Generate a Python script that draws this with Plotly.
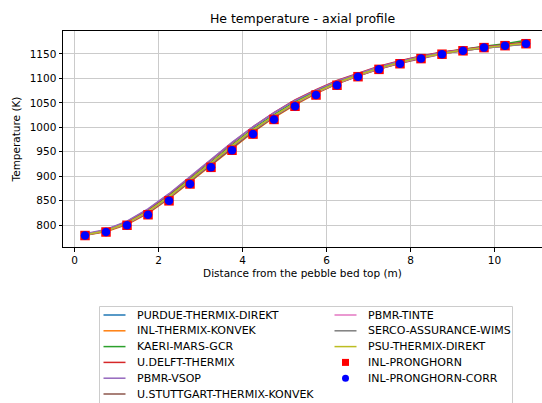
import plotly.graph_objects as go

# Axial positions (m from the top of the pebble bed)
z = [0.25, 0.75, 1.25, 1.75, 2.25, 2.75, 3.25, 3.75, 4.25, 4.75, 5.25,
     5.75, 6.25, 6.75, 7.25, 7.75, 8.25, 8.75, 9.25, 9.75, 10.25, 10.75]

# Helium temperature (K) per code
purdue_thermix_direkt = [781, 789, 805, 830, 860, 894, 929, 964, 997, 1026, 1052,
                         1074, 1093, 1109, 1123, 1135, 1145, 1153, 1159, 1164, 1169, 1174]
inl_thermix_konvek = [779, 786, 801, 824, 854, 888, 922, 957, 990, 1020, 1046,
                      1069, 1089, 1105, 1119, 1131, 1142, 1150, 1157, 1162, 1167, 1171]
kaeri_mars_gcr = [781, 789, 805, 829, 859, 893, 928, 963, 996, 1025, 1052,
                  1074, 1093, 1109, 1123, 1135, 1145, 1153, 1160, 1166, 1171, 1178]
udelft_thermix = [781, 790, 807, 832, 863, 898, 933, 968, 1001, 1030, 1056,
                  1077, 1096, 1111, 1125, 1136, 1146, 1154, 1160, 1165, 1169, 1174]
pbmr_vsop = [782, 791, 808, 833, 864, 899, 934, 969, 1001, 1030, 1055,
             1076, 1095, 1110, 1124, 1135, 1145, 1153, 1159, 1164, 1168, 1172]
ustuttgart_thermix_konvek = [779, 787, 802, 825, 855, 889, 923, 958, 991, 1021, 1047,
                             1070, 1089, 1105, 1119, 1131, 1141, 1150, 1157, 1162, 1166, 1171]
pbmr_tinte = [780, 788, 803, 827, 857, 891, 926, 961, 994, 1023, 1049,
              1071, 1090, 1106, 1120, 1132, 1142, 1150, 1157, 1162, 1166, 1170]
serco_assurance_wims = [780, 788, 804, 828, 857, 891, 926, 961, 994, 1023, 1050,
                        1072, 1091, 1107, 1121, 1133, 1143, 1151, 1157, 1162, 1166, 1170]
psu_thermix_direkt = [780, 788, 804, 828, 858, 892, 927, 962, 995, 1024, 1050,
                      1072, 1091, 1107, 1121, 1133, 1143, 1151, 1158, 1163, 1167, 1172]
inl_pronghorn = [778.5, 785.7, 799.5, 821, 849.5, 884, 918, 953, 986, 1016, 1043,
                 1066, 1086, 1103.5, 1118.5, 1130, 1140.5, 1149.5, 1156.5, 1163, 1167, 1171]
inl_pronghorn_corr = [778.5, 785.7, 799.5, 821, 849.5, 884, 918, 953, 986, 1016, 1043,
                      1066, 1086, 1103.5, 1118.5, 1130, 1140.5, 1149.5, 1156.5, 1163, 1167, 1171]

line_names = ["PURDUE-THERMIX-DIREKT", "INL-THERMIX-KONVEK", "KAERI-MARS-GCR",
              "U.DELFT-THERMIX", "PBMR-VSOP", "U.STUTTGART-THERMIX-KONVEK",
              "PBMR-TINTE", "SERCO-ASSURANCE-WIMS", "PSU-THERMIX-DIREKT"]
line_data = [purdue_thermix_direkt, inl_thermix_konvek, kaeri_mars_gcr, udelft_thermix,
             pbmr_vsop, ustuttgart_thermix_konvek, pbmr_tinte, serco_assurance_wims,
             psu_thermix_direkt]
line_colors = ["#1f77b4", "#ff7f0e", "#2ca02c", "#d62728", "#9467bd",
               "#8c564b", "#e377c2", "#7f7f7f", "#bcbd22"]
marker_names = ["INL-PRONGHORN", "INL-PRONGHORN-CORR"]
marker_data = [inl_pronghorn, inl_pronghorn_corr]
marker_colors = ["#ff0000", "#0000ff"]
marker_symbols = ["square", "circle"]
marker_sizes = [9.5, 8.5]

FONT = "DejaVu Sans"
W, H = 542, 403
L, R, T, B = 63, 0, 31, 156
pw, ph = W - L - R, H - T - B

fig = go.Figure()
for name, ys, col in zip(line_names, line_data, line_colors):
    fig.add_trace(go.Scatter(x=z, y=ys, mode="lines", name=name,
                             line=dict(color=col, width=1.5), showlegend=False))
for name, ys, col, sym, sz in zip(marker_names, marker_data, marker_colors,
                                  marker_symbols, marker_sizes):
    fig.add_trace(go.Scatter(x=z, y=ys, mode="markers", name=name,
                             marker=dict(color=col, symbol=sym, size=sz, line=dict(width=0)),
                             showlegend=False))

# Legend box below the axes, two columns
def px_x(p):
    return (p - L) / pw

def px_y(p):
    return (H - B - p) / ph

shapes = [dict(type="rect", xref="paper", yref="paper",
               x0=px_x(99.5), x1=px_x(512.5), y0=px_y(410), y1=px_y(306.5),
               line=dict(color="#cccccc", width=1), fillcolor="rgba(255,255,255,0.8)",
               layer="above")]
annotations = []
entries = [(n, "line", c) for n, c in zip(line_names, line_colors)] + \
          [(n, s, c) for n, s, c in zip(marker_names, marker_symbols, marker_colors)]
row_y = [315, 330.8, 346.6, 362.4, 378.2, 394]
for i, (name, kind, col) in enumerate(entries):
    colx = 0 if i < 6 else 1
    ry = row_y[i if i < 6 else i - 6]
    hx0, hx1, tx = (103.5, 125.5, 135) if colx == 0 else (334.5, 356.5, 365.5)
    if kind == "line":
        shapes.append(dict(type="line", xref="paper", yref="paper",
                           x0=px_x(hx0), x1=px_x(hx1), y0=px_y(ry), y1=px_y(ry),
                           line=dict(color=col, width=1.5), layer="above"))
    else:
        cx = (hx0 + hx1) / 2
        half = 3.5
        shapes.append(dict(type="rect" if kind == "square" else "circle",
                           xref="paper", yref="paper",
                           x0=px_x(cx - half), x1=px_x(cx + half),
                           y0=px_y(ry + half), y1=px_y(ry - half),
                           fillcolor=col, line=dict(width=0), layer="above"))
    annotations.append(dict(text=name, xref="paper", yref="paper", x=px_x(tx), y=px_y(ry),
                            xanchor="left", yanchor="middle", showarrow=False,
                            font=dict(family=FONT, size=11, color="#000000")))

fig.update_layout(
    width=W, height=H,
    margin=dict(l=L, r=R, t=T, b=B, pad=0),
    paper_bgcolor="white", plot_bgcolor="white",
    font=dict(family=FONT, size=10.5, color="#000000"),
    title=dict(text="He temperature - axial profile", x=(L + W - R) / 2 / W, xanchor="center",
               y=1 - 19 / H, yanchor="middle", font=dict(family=FONT, size=12.5, color="#000000")),
    xaxis=dict(range=[-0.274, 11.131], tickmode="array", tickvals=[0, 2, 4, 6, 8, 10],
               ticks="outside", ticklen=3.5, tickwidth=1, tickcolor="#000000",
               showline=True, linecolor="#000000", linewidth=1, mirror=True,
               showgrid=True, gridcolor="#cbcbcb", gridwidth=1, zeroline=False,
               title=dict(text="Distance from the pebble bed top (m)", standoff=4,
                          font=dict(size=10.5))),
    yaxis=dict(range=[755, 1197], tickmode="array",
               tickvals=[800, 850, 900, 950, 1000, 1050, 1100, 1150],
               ticks="outside", ticklen=3.5, tickwidth=1, tickcolor="#000000",
               showline=True, linecolor="#000000", linewidth=1, mirror=False,
               showgrid=True, gridcolor="#cbcbcb", gridwidth=1, zeroline=False,
               title=dict(text="Temperature (K)", standoff=6, font=dict(size=10.5))),
    shapes=shapes, annotations=annotations,
)

fig.write_html("out.html")
